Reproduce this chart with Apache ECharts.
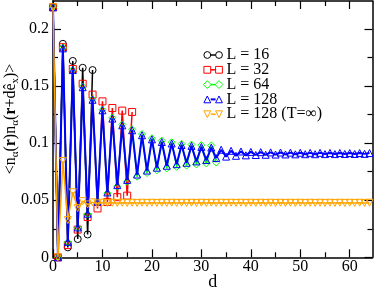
<!DOCTYPE html>
<html><head><meta charset="utf-8">
<script src="https://cdn.jsdelivr.net/npm/echarts@6/dist/echarts.min.js"></script>
<style>html,body{margin:0;padding:0;background:#fff}#c{width:374px;height:288px}</style>
</head><body><div id="c"></div>
<script>
// d = 0,1,2,... (index)
const L16 = [0.219, 0, 0.187, 0.0087, 0.172, 0.016, 0.166, 0.020, 0.164];
const L32 = [0.219, 0, 0.184, 0.0107, 0.165, 0.0243, 0.152, 0.0353, 0.1425, 0.0428, 0.1366, 0.0485, 0.1308, 0.0527, 0.1285, 0.0540, 0.1273];
const L64 = [0.219, 0, 0.1835, 0.0133, 0.164, 0.026, 0.1495, 0.0378, 0.1385, 0.0482, 0.1292, 0.0562, 0.1222, 0.0620, 0.1163, 0.0662, 0.1122, 0.0705, 0.1080, 0.0738, 0.1043, 0.0762, 0.1022, 0.0778, 0.1008, 0.0792, 0.0995, 0.0803, 0.0988, 0.0813, 0.0982, 0.0822, 0.0980, 0.0830];
const L128 = [0.219, 0, 0.183, 0.0135, 0.164, 0.0262, 0.149, 0.0382, 0.138, 0.0487, 0.1288, 0.0568, 0.1215, 0.0632, 0.1156, 0.0678, 0.1113, 0.0725, 0.1069, 0.0760, 0.1033, 0.0785, 0.1010, 0.0802, 0.0997, 0.0816, 0.0984, 0.0828, 0.0976, 0.0840, 0.0967, 0.0852, 0.0961, 0.0870, 0.0942, 0.0882, 0.0933, 0.0889, 0.0927, 0.0893, 0.0923, 0.0896, 0.0921, 0.0898, 0.0919, 0.0900, 0.0918, 0.0901, 0.0917, 0.0902, 0.0916, 0.0903, 0.0915, 0.0903, 0.0915, 0.0904, 0.0914, 0.0904, 0.0914, 0.0905, 0.0913, 0.0905, 0.0913, 0.0906, 0.0913];
const L128Tinf = [0.219, 0, 0.0843, 0.0326, 0.0570, 0.0431, 0.0492, 0.0463, 0.0481, 0.0472, 0.0479, 0.0475,
  0.0478, 0.0476, 0.0478, 0.0476, 0.0478, 0.0476, 0.0478, 0.0476, 0.0478, 0.0476,
  0.0478, 0.0476, 0.0478, 0.0476, 0.0478, 0.0476, 0.0478, 0.0476, 0.0478, 0.0476,
  0.0478, 0.0476, 0.0478, 0.0476, 0.0478, 0.0476, 0.0478, 0.0476, 0.0478, 0.0476,
  0.0478, 0.0476, 0.0478, 0.0476, 0.0478, 0.0476, 0.0478, 0.0476, 0.0478, 0.0476,
  0.0478, 0.0476, 0.0478, 0.0476, 0.0478, 0.0476, 0.0478, 0.0476, 0.0478, 0.0476,
  0.0478, 0.0476, 0.0478];
const seriesNames = ['L = 16', 'L = 32', 'L = 64', 'L = 128', 'L = 128 (T=\u221e)'];
const xMajor = [0, 10, 20, 30, 40, 50, 60];
const xMinor = [5, 15, 25, 35, 45, 55];
const yMajor = [0, 0.05, 0.1, 0.15, 0.2];
const yMinor = [0.025, 0.075, 0.125, 0.175];

const FONT = 'Liberation Serif';
const colors = ['#000000', '#ff0000', '#00ff00', '#0000ff', '#ffa500'];
const symbols = ['circle', 'rect', 'diamond', 'triangle', 'triangle'];
const rots = [0, 0, 0, 0, 180];
const widths = [1.5, 1.5, 1.5, 2, 1.5];
const datas = [L16, L32, L64, L128, L128Tinf];

const chart = echarts.init(document.getElementById('c'), null, {renderer: 'canvas'});

function xAx(pos, ticks, len, showLine, labels) {
  return {
    type: 'value', position: pos, min: 0, max: 64.6,
    axisLine: {show: showLine, onZero: false, lineStyle: {color: '#000', width: 1.5}},
    axisTick: {show: true, inside: true, length: len, customValues: ticks, lineStyle: {color: '#000', width: 1.2}},
    axisLabel: labels ? {show: true, customValues: xMajor, color: '#000', fontFamily: FONT, fontSize: 16, margin: 1} : {show: false},
    splitLine: {show: false}
  };
}
function yAx(pos, ticks, len, showLine, labels) {
  return {
    type: 'value', position: pos, min: 0, max: 0.2245,
    axisLine: {show: showLine, onZero: false, lineStyle: {color: '#000', width: 1.5}},
    axisTick: {show: true, inside: true, length: len, customValues: ticks, lineStyle: {color: '#000', width: 1.2}},
    axisLabel: labels ? {show: true, customValues: yMajor, color: '#000', fontFamily: FONT, fontSize: 16, margin: 4} : {show: false},
    splitLine: {show: false}
  };
}

const xAxes = [xAx('bottom', xMajor, 8, true, true), xAx('bottom', xMinor, 5, false, false),
               xAx('top', xMajor, 8, true, false), xAx('top', xMinor, 5, false, false)];
xAxes[0].name = 'd';
xAxes[0].nameLocation = 'middle';
xAxes[0].nameGap = 16;
xAxes[0].nameMoveOverlap = false;
xAxes[0].nameTextStyle = {fontFamily: FONT, fontSize: 18, color: '#000'};
const yAxes = [yAx('left', yMajor, 8, true, true), yAx('left', yMinor, 5, false, false),
               yAx('right', yMajor, 8, true, false), yAx('right', yMinor, 5, false, false)];

const series = datas.map((d, k) => ({
  name: seriesNames[k], type: 'line', xAxisIndex: 0, yAxisIndex: 0,
  data: d.map((v, i) => [i, v]),
  symbol: symbols[k], symbolSize: 7, symbolRotate: rots[k], showAllSymbol: true, clip: false,
  lineStyle: {color: colors[k], width: widths[k]},
  itemStyle: {color: 'none', borderColor: colors[k], borderWidth: 1},
  emphasis: {disabled: true}, z: 2 + k
}));

// legend (xmgrace style: symbol-line-symbol)
const legendEls = [];
const lx1 = 207.3, lx2 = 219, ly0 = 55, ldy = 14.8, r = 3.4;
function symShape(k, cx, cy) {
  const st = {fill: 'none', stroke: colors[k], lineWidth: 1};
  if (k === 0) return {type: 'circle', shape: {cx, cy, r}, style: st};
  if (k === 1) return {type: 'rect', shape: {x: cx - r, y: cy - r, width: 2 * r, height: 2 * r}, style: st};
  if (k === 2) return {type: 'polygon', shape: {points: [[cx, cy - r - 0.5], [cx + r + 0.5, cy], [cx, cy + r + 0.5], [cx - r - 0.5, cy]]}, style: st};
  if (k === 3) return {type: 'polygon', shape: {points: [[cx, cy - r], [cx + r, cy + r], [cx - r, cy + r]]}, style: st};
  return {type: 'polygon', shape: {points: [[cx, cy + r], [cx + r, cy - r], [cx - r, cy - r]]}, style: st};
}
seriesNames.forEach((nm, k) => {
  const y = ly0 + k * ldy;
  legendEls.push({type: 'line', shape: {x1: lx1 + r, y1: y, x2: lx2 - r, y2: y}, style: {stroke: colors[k], lineWidth: widths[k]}});
  legendEls.push(symShape(k, lx1, y));
  legendEls.push(symShape(k, lx2, y));
  legendEls.push({type: 'text', x: 226.5, y: y, style: {text: nm, fill: '#000', font: '16px "Liberation Serif"', verticalAlign: 'middle', align: 'left'}});
});

// y-axis title
legendEls.push({
  type: 'text', x: 11, y: 119, rotation: Math.PI / 2,
  style: {
    text: '{n|<n}{s|\u03b1}{n|(}{b|r}{n|)n}{s|\u03b1}{n|(}{b|r}{n|+d\u00ea}{s|x}{n|)>}',
    align: 'center', verticalAlign: 'middle',
    rich: {
      n: {fontFamily: FONT, fontSize: 16, lineHeight: 20, fill: '#000', verticalAlign: 'middle'},
      b: {fontFamily: FONT, fontSize: 16, fontWeight: 'bold', lineHeight: 20, fill: '#000', verticalAlign: 'middle'},
      s: {fontFamily: FONT, fontSize: 11, lineHeight: 11, fill: '#000', verticalAlign: 'bottom'}
    }
  }
});

chart.setOption({
  animation: false,
  backgroundColor: '#fff',
  grid: {left: 53, right: 1.5, top: 1, bottom: 30.7, containLabel: false, outerBoundsMode: 'none'},
  xAxis: xAxes,
  yAxis: yAxes,
  series: series,
  graphic: legendEls
});
</script>
</body></html>
